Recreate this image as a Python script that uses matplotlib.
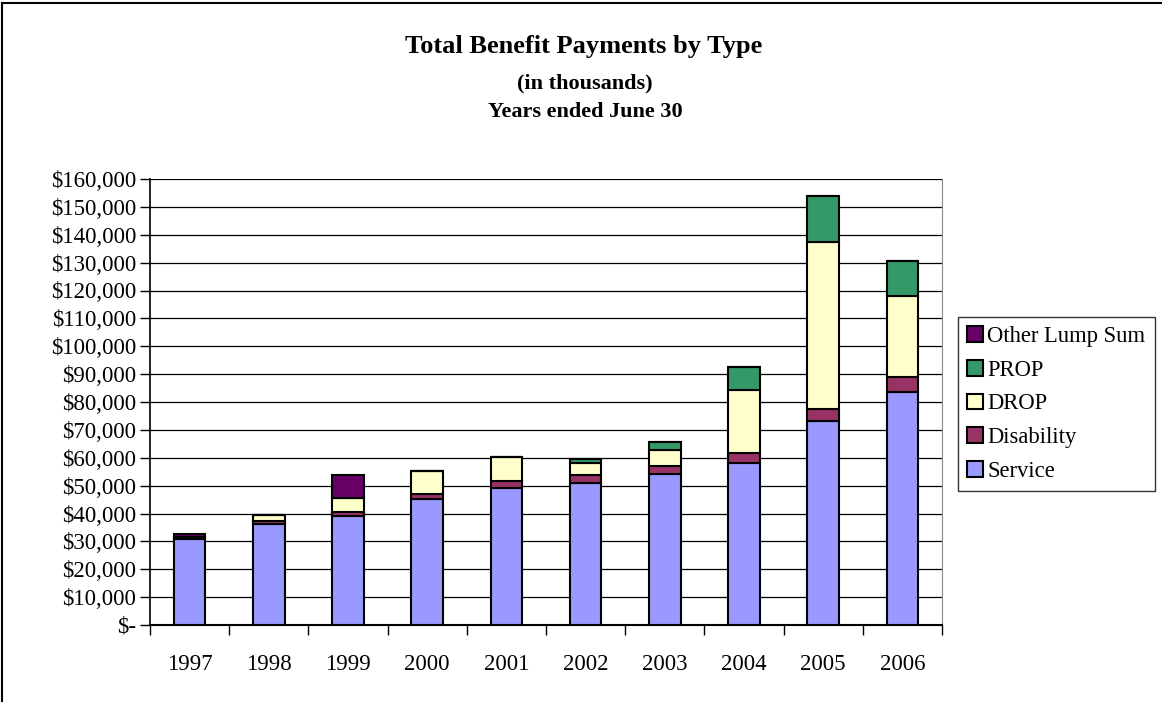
import matplotlib.pyplot as plt
import numpy as np
from matplotlib.ticker import FuncFormatter, MultipleLocator
from matplotlib.lines import Line2D

years = ["1997", "1998", "1999", "2000", "2001", "2002", "2003", "2004", "2005", "2006"]

# values in thousands of dollars
service    = [30800, 36100, 39000, 45100, 49000, 51100, 54100, 58200, 73200, 83600]
disability = [700, 1300, 1700, 1800, 2700, 2600, 3000, 3400, 4400, 5300]
drop       = [0, 1900, 4800, 8300, 8600, 4300, 5700, 22700, 59700, 29100]
prop       = [0, 0, 0, 0, 0, 1400, 2800, 8400, 16700, 12500]
other_lump = [1100, 200, 8300, 200, 0, 0, 0, 0, 0, 0]

series = [
    ("Service", service, "#9999FF"),
    ("Disability", disability, "#993366"),
    ("DROP", drop, "#FFFFCC"),
    ("PROP", prop, "#339966"),
    ("Other Lump Sum", other_lump, "#660066"),
]

plt.rcParams['font.family'] = ['Liberation Serif', 'DejaVu Serif']

fig = plt.figure(figsize=(11.62, 7.02), dpi=100)
ax = fig.add_axes([150 / 1162, 77 / 702, 792 / 1162, 446 / 702])

x = np.arange(len(years))
bottom = np.zeros(len(years))
handles = []
for name, vals, color in series:
    vals = np.array(vals, dtype=float)
    b = ax.bar(x, vals, width=0.4, bottom=bottom, color=color,
               edgecolor="black", linewidth=1.5, zorder=3, label=name)
    handles.append(b)
    bottom += vals

ax.set_xlim(-0.5, len(years) - 0.5)
ax.set_ylim(0, 160000)
ax.yaxis.set_major_locator(MultipleLocator(10000))
ax.yaxis.set_major_formatter(FuncFormatter(lambda v, p: "$-" if v == 0 else f"${v:,.0f}"))
ax.grid(axis="y", color="black", linewidth=0.9, zorder=0)

# category ticks sit on the boundaries, labels in the middle
ax.set_xticks(np.arange(len(years) + 1) - 0.5)
ax.set_xticklabels([])
ax.set_xticks(x, minor=True)
ax.set_xticklabels(years, minor=True)
ax.tick_params(axis="x", which="major", length=7, width=1, direction="out")
ax.tick_params(axis="x", which="minor", length=0, pad=21, labelsize=16.5)
ax.tick_params(axis="y", length=7, width=1, labelsize=16.5, pad=3)

ax.spines["top"].set_visible(False)
ax.spines["right"].set_color("#888888")
ax.spines["left"].set_linewidth(1.2)
ax.spines["bottom"].set_linewidth(1.5)

fig.text(584 / 1162, 1 - 46 / 702, "Total Benefit Payments by Type",
         ha="center", va="center", fontsize=19, fontweight="bold")
fig.text(585 / 1162, 1 - 83 / 702, "(in thousands)",
         ha="center", va="center", fontsize=16, fontweight="bold")
fig.text(585 / 1162, 1 - 112 / 702, "Years ended June 30",
         ha="center", va="center", fontsize=16, fontweight="bold")

leg = fig.legend(handles[::-1], [s[0] for s in series][::-1],
                 loc="upper left", bbox_to_anchor=(958 / 1162, 1 - 317 / 702),
                 fontsize=16.3, frameon=True, fancybox=False, edgecolor="black",
                 handlelength=0.7, handleheight=0.7, handletextpad=0.2,
                 labelspacing=0.56, borderpad=0.4, borderaxespad=0)
leg.get_frame().set_linewidth(1.0)

# outer chart frame (left and top edges visible)
fig.add_artist(Line2D([2.5 / 1162, 2.5 / 1162], [0, 1 - 2.5 / 702], color="black", lw=1.5))
fig.add_artist(Line2D([2.5 / 1162, 1], [1 - 2.5 / 702, 1 - 2.5 / 702], color="black", lw=1.5))

fig.savefig("out.png", dpi=100)
